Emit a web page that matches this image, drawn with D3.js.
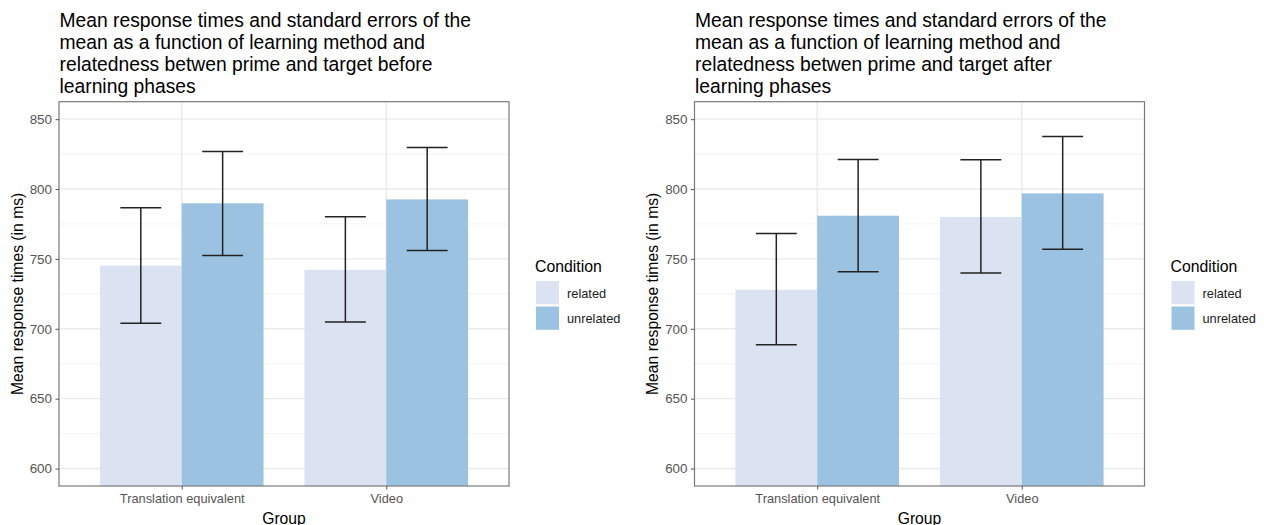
<!DOCTYPE html>
<html><head><meta charset="utf-8">
<script src="https://cdn.jsdelivr.net/npm/d3@7"></script>
<style>body{margin:0;background:#fff}svg{display:block;font-family:"Liberation Sans",Arial,sans-serif}</style>
</head><body><svg id="c" width="1264" height="525"></svg>
<script>
const groups = ["Translation equivalent", "Video"];
const conditions = ["related", "unrelated"];
const colors = ["#dbe3f3", "#9bc3e1"];
const yTicks = [600, 650, 700, 750, 800, 850];
const yMinor = [625, 675, 725, 775, 825];

const titleBefore = ["Mean response times and standard errors of the","mean as a function of learning method and","relatedness betwen prime and target before","learning phases"];
const titleAfter  = ["Mean response times and standard errors of the","mean as a function of learning method and","relatedness betwen prime and target after","learning phases"];

// [group][condition]
const beforeMean  = [[745.2, 789.8], [742.2, 792.6]];
const beforeLower = [[704.0, 752.4], [704.8, 756.0]];
const beforeUpper = [[786.6, 826.9], [780.2, 829.8]];

const afterMean   = [[727.9, 780.9], [780.0, 796.9]];
const afterLower  = [[688.6, 740.9], [740.0, 756.9]];
const afterUpper  = [[768.1, 821.2], [820.9, 837.6]];

const svg = d3.select("#c");

function panel(x0, titleLines, mean, lower, upper) {
  const L = x0 + 59, R = x0 + 509, T = 101.7, B = 486;
  const g = svg.append("g");
  // title
  g.append("text").attr("y", 27).attr("font-size", 19.3).attr("fill", "#000")
    .selectAll("tspan").data(titleLines).join("tspan")
    .attr("x", L + 0.5).attr("dy", (d, i) => i ? 21.9 : 0).text(d => d);

  const y = d3.scaleLinear().domain([587.5, 862.5]).range([B, T]);
  const xs = d3.scaleLinear().domain([0.4, 2.6]).range([L, R]);
  const unit = (R - L) / 2.2;
  const barW = unit * 0.4;

  // grid
  g.selectAll(".mn").data(yMinor).join("line")
    .attr("x1", L).attr("x2", R).attr("y1", d => y(d)).attr("y2", d => y(d))
    .attr("stroke", "#f0f0f0").attr("stroke-width", 0.8);
  g.selectAll(".mj").data(yTicks).join("line")
    .attr("x1", L).attr("x2", R).attr("y1", d => y(d)).attr("y2", d => y(d))
    .attr("stroke", "#ebebeb").attr("stroke-width", 1.4);
  g.selectAll(".vx").data(groups).join("line")
    .attr("x1", (d, i) => xs(i + 1)).attr("x2", (d, i) => xs(i + 1)).attr("y1", T).attr("y2", B)
    .attr("stroke", "#ebebeb").attr("stroke-width", 1.4);

  // bars
  const rows = [];
  groups.forEach((gr, i) => conditions.forEach((c, j) => rows.push({gi: i, cj: j, m: mean[i][j], lo: lower[i][j], hi: upper[i][j]})));
  const clipId = "clip" + Math.round(x0);
  svg.append("clipPath").attr("id", clipId).append("rect").attr("x", L).attr("y", T).attr("width", R - L).attr("height", B - T);
  const pg = g.append("g").attr("clip-path", `url(#${clipId})`);
  pg.selectAll("rect.bar").data(rows).join("rect")
    .attr("x", d => xs(d.gi + 1) + (d.cj - 1) * barW)
    .attr("width", barW)
    .attr("y", d => y(d.m))
    .attr("height", d => y(587.5) - y(d.m) + 2)
    .attr("fill", d => colors[d.cj]);
  // error bars
  const capW = unit * 0.1;
  const ex = d => xs(d.gi + 1) + (d.cj - 0.5) * barW;
  const eb = pg.selectAll("g.eb").data(rows).join("g").attr("stroke", "#222").attr("stroke-width", 1.5);
  eb.append("line").attr("x1", ex).attr("x2", ex).attr("y1", d => y(d.hi)).attr("y2", d => y(d.lo));
  eb.append("line").attr("x1", d => ex(d) - capW).attr("x2", d => ex(d) + capW).attr("y1", d => y(d.hi)).attr("y2", d => y(d.hi));
  eb.append("line").attr("x1", d => ex(d) - capW).attr("x2", d => ex(d) + capW).attr("y1", d => y(d.lo)).attr("y2", d => y(d.lo));

  // border
  g.append("rect").attr("x", L).attr("y", T).attr("width", R - L).attr("height", B - T)
    .attr("fill", "none").attr("stroke", "#7a7a7a").attr("stroke-width", 1.2);

  // y axis
  const ya = g.append("g").attr("transform", `translate(${L},0)`)
    .call(d3.axisLeft(y).tickValues(yTicks).tickSize(3.5).tickPadding(3.5));
  ya.select(".domain").remove();
  ya.selectAll("line").attr("stroke", "#555");
  ya.selectAll("text").attr("fill", "#555").attr("font-size", 13.4).attr("font-family", "Liberation Sans, Arial, sans-serif");
  // x axis
  const xa = g.append("g").attr("transform", `translate(0,${B})`)
    .call(d3.axisBottom(xs).tickValues([1, 2]).tickFormat(d => groups[d - 1]).tickSize(3.5).tickPadding(4.5));
  xa.select(".domain").remove();
  xa.selectAll("line").attr("stroke", "#555");
  xa.selectAll("text").attr("fill", "#555").attr("font-size", 12.8).attr("font-family", "Liberation Sans, Arial, sans-serif");

  // axis titles
  g.append("text").attr("x", (L + R) / 2).attr("y", 523.5).attr("text-anchor", "middle").attr("font-size", 15.7).text("Group");
  g.append("text").attr("transform", `translate(${L - 36.5},${(T + B) / 2}) rotate(-90)`)
    .attr("text-anchor", "middle").attr("font-size", 15.7).text("Mean response times (in ms)");

  // legend
  const lg = g.append("g").attr("transform", `translate(${R + 26},0)`);
  lg.append("text").attr("x", 0).attr("y", 271.5).attr("font-size", 15.8).text("Condition");
  lg.selectAll("rect").data(conditions).join("rect")
    .attr("x", 1).attr("y", (d, i) => 281 + i * 25.5).attr("width", 23).attr("height", 23.3)
    .attr("fill", (d, i) => colors[i]);
  lg.selectAll("text.lab").data(conditions).join("text").attr("class", "lab")
    .attr("x", 32).attr("y", (d, i) => 297.5 + i * 25.5).attr("font-size", 12.8).attr("fill", "#222").text(d => d);
}

panel(0, titleBefore, beforeMean, beforeLower, beforeUpper);
panel(635.5, titleAfter, afterMean, afterLower, afterUpper);
</script></body></html>
